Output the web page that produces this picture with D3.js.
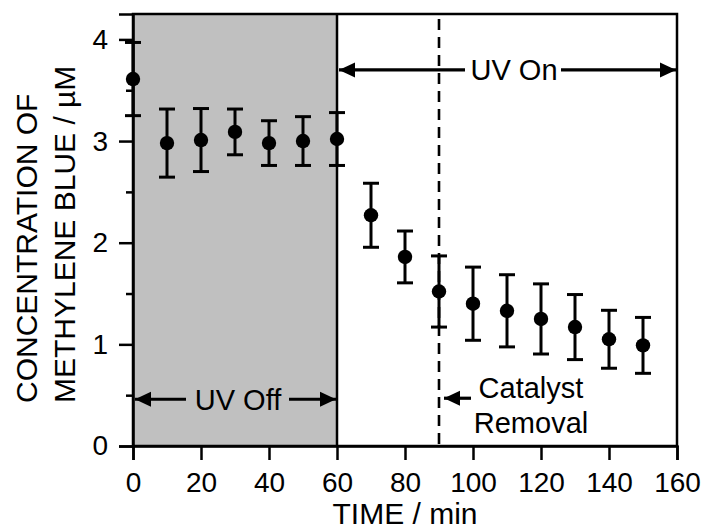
<!DOCTYPE html>
<html><head><meta charset="utf-8">
<script src="https://cdn.jsdelivr.net/npm/d3@7"></script>
<style>
html,body{margin:0;padding:0;background:#fff;}
text{font-family:"Liberation Sans",Arial,sans-serif;fill:#000;}
</style></head>
<body>
<svg id="chart" width="705" height="531"></svg>
<script>
// Data
const times = [0, 10, 20, 30, 40, 50, 60, 70, 80, 90, 100, 110, 120, 130, 140, 150];
const concentration = [3.61, 2.98, 3.01, 3.09, 2.98, 3.00, 3.02, 2.27, 1.86, 1.52, 1.40, 1.33, 1.25, 1.17, 1.05, 0.99];
const errors = [0.36, 0.335, 0.31, 0.225, 0.22, 0.24, 0.26, 0.315, 0.255, 0.35, 0.36, 0.355, 0.345, 0.32, 0.285, 0.275];
const xTicks = [0, 20, 40, 60, 80, 100, 120, 140, 160];
const yTicks = [0, 1, 2, 3, 4];
const yMinorTicks = [0.5, 1.5, 2.5, 3.5];
const uvOffRange = [0, 60];
const catalystRemovalTime = [90];
const xTitle = "TIME / min";
const yTitleLines = ["CONCENTRATION OF", "METHYLENE BLUE / \u00B5M"];

const svg = d3.select("#chart");
const m = {left: 133, top: 14, right: 28, bottom: 85};
const W = 705 - m.left - m.right, H = 531 - m.top - m.bottom;
const x = d3.scaleLinear().domain([0, 160]).range([0, W]);
const y = d3.scaleLinear().domain([0, 4.25]).range([H, 0]);
const g = svg.append("g").attr("transform", `translate(${m.left},${m.top})`);

// UV off shaded area
g.append("rect").attr("x", x(uvOffRange[0])).attr("y", 0)
  .attr("width", x(uvOffRange[1]) - x(uvOffRange[0])).attr("height", H)
  .attr("fill", "#c0c0c0");
g.append("line").attr("x1", x(uvOffRange[1])).attr("x2", x(uvOffRange[1]))
  .attr("y1", 0).attr("y2", H).attr("stroke", "#000").attr("stroke-width", 2.5);

// catalyst removal dashed line
g.selectAll(".dash").data(catalystRemovalTime).join("line")
  .attr("x1", d => x(d)).attr("x2", d => x(d))
  .attr("y1", 5).attr("y2", H).attr("stroke", "#000")
  .attr("stroke-width", 2.6).attr("stroke-dasharray", "11,7");

// arrows helper
function arrow(x1, x2, yy, headAt) {
  g.append("line").attr("x1", x1).attr("x2", x2).attr("y1", yy).attr("y2", yy)
    .attr("stroke", "#000").attr("stroke-width", 3.2);
  headAt.forEach(([tip, dir]) => {
    g.append("path")
      .attr("d", `M${tip},${yy} L${tip + dir * 16},${yy - 7.5} L${tip + dir * 16},${yy + 7.5} Z`)
      .attr("fill", "#000");
  });
}
const fs = 29;
// UV On
const yOn = y(3.70);
arrow(x(60) + 2, x(60) + 128, yOn, [[x(60) + 2, 1]]);
arrow(x(60) + 224, x(160) - 1, yOn, [[x(160) - 1, -1]]);
g.append("text").attr("x", x(60) + 177).attr("y", yOn + 10).attr("text-anchor", "middle")
  .attr("font-size", fs).text("UV On");
// UV Off
const yOff = y(0.46);
arrow(x(0) + 2, x(0) + 53, yOff, [[x(0) + 2, 1]]);
arrow(x(0) + 156, x(60) - 1, yOff, [[x(60) - 1, -1]]);
g.append("text").attr("x", x(0) + 105).attr("y", yOff + 11).attr("text-anchor", "middle")
  .attr("font-size", fs).text("UV Off");
// Catalyst removal
const yCat = y(0.47);
arrow(x(90) + 5, x(90) + 32, yCat, [[x(90) + 5, 1]]);
g.append("text").attr("x", x(90) + 92).attr("y", yCat).attr("text-anchor", "middle")
  .attr("font-size", fs).text("Catalyst");
g.append("text").attr("x", x(90) + 92).attr("y", yCat + 35).attr("text-anchor", "middle")
  .attr("font-size", fs).text("Removal");

// data
const data = times.map((t, i) => ({t, v: concentration[i], e: errors[i]}));
const eb = g.append("g").attr("stroke", "#000").attr("stroke-width", 3);
eb.selectAll(".v").data(data).join("line")
  .attr("x1", d => x(d.t)).attr("x2", d => x(d.t))
  .attr("y1", d => y(d.v + d.e)).attr("y2", d => y(d.v - d.e));
eb.selectAll(".cu").data(data).join("line")
  .attr("x1", d => x(d.t) - 8).attr("x2", d => x(d.t) + 8)
  .attr("y1", d => y(d.v + d.e)).attr("y2", d => y(d.v + d.e));
eb.selectAll(".cl").data(data).join("line")
  .attr("x1", d => x(d.t) - 8).attr("x2", d => x(d.t) + 8)
  .attr("y1", d => y(d.v - d.e)).attr("y2", d => y(d.v - d.e));
g.selectAll("circle").data(data).join("circle")
  .attr("cx", d => x(d.t)).attr("cy", d => y(d.v)).attr("r", 7.2).attr("fill", "#000");

// frame
g.append("rect").attr("x", 0).attr("y", 0).attr("width", W).attr("height", H)
  .attr("fill", "none").attr("stroke", "#000").attr("stroke-width", 2.5);

// axes
const xa = g.append("g").attr("transform", `translate(0,${H})`)
  .call(d3.axisBottom(x).tickValues(xTicks).tickSize(14).tickPadding(12).tickFormat(d3.format("d")));
const ya = g.append("g")
  .call(d3.axisLeft(y).tickValues(yTicks).tickSize(14).tickPadding(11).tickFormat(d3.format("d")));
g.append("g").call(d3.axisLeft(y).tickValues(yMinorTicks).tickSize(7).tickFormat(""))
  .call(a => a.select(".domain").remove())
  .selectAll("line").attr("stroke-width", 2.5);
[xa, ya].forEach(a => {
  a.select(".domain").attr("stroke-width", 2.5);
  a.selectAll("line").attr("stroke-width", 2.5);
  a.selectAll("text").attr("font-size", 28).attr("font-family", '"Liberation Sans",Arial,sans-serif').attr("fill", "#000");
});

// titles
svg.append("text").attr("x", m.left + W / 2).attr("y", 524).attr("text-anchor", "middle")
  .attr("font-size", 30).text(xTitle);
svg.selectAll(".yt").data(yTitleLines).join("text")
  .attr("transform", (d, i) => `translate(${37 + i * 38},403) rotate(-90)`)
  .attr("text-anchor", "start").attr("font-size", 30).text(d => d);
</script>
</body></html>
